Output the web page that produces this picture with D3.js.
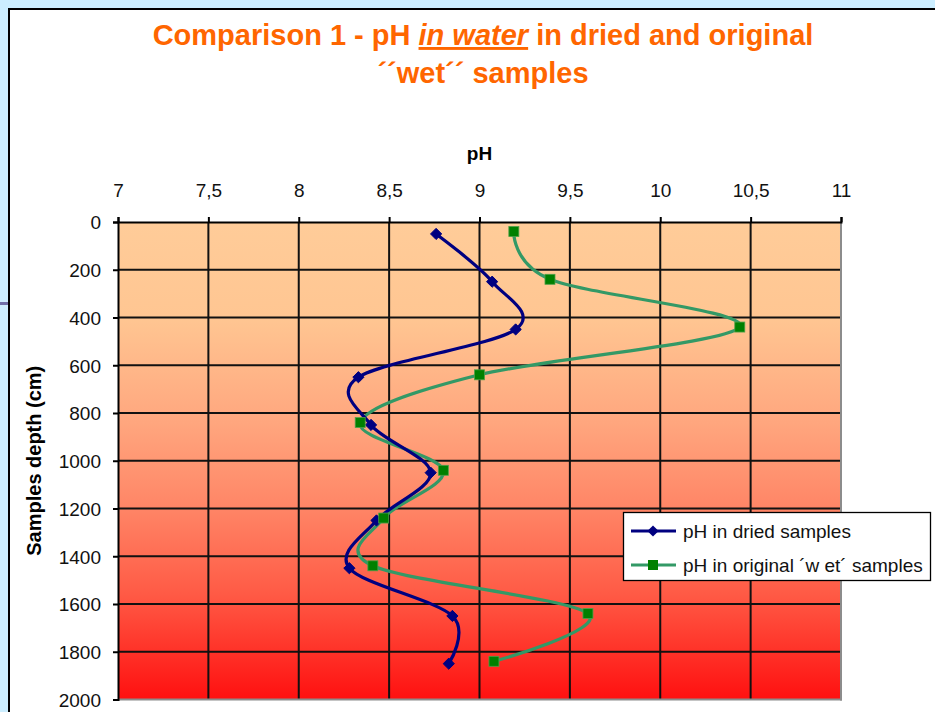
<!DOCTYPE html>
<html>
<head>
<meta charset="utf-8">
<script src="https://cdn.jsdelivr.net/npm/d3@7"></script>
<style>
  html, body { margin: 0; padding: 0; background: #cceeff; }
  svg { display: block; font-family: "Liberation Sans", Arial, sans-serif; }
</style>
</head>
<body>
<svg id="chart" width="935" height="712"></svg>
<script>
// pH readings by sample depth
const driedDepth = [50, 250, 450, 650, 850, 1050, 1250, 1450, 1650, 1850];
const driedPH    = [8.76, 9.07, 9.20, 8.33, 8.40, 8.73, 8.43, 8.28, 8.85, 8.83];
const wetDepth   = [40, 240, 440, 640, 840, 1040, 1240, 1440, 1640, 1840];
const wetPH      = [9.19, 9.39, 10.44, 9.00, 8.34, 8.80, 8.47, 8.41, 9.60, 9.08];
const phTicks    = [7, 7.5, 8, 8.5, 9, 9.5, 10, 10.5, 11];
const depthTicks = [0, 200, 400, 600, 800, 1000, 1200, 1400, 1600, 1800, 2000];
const seriesNames = ["pH in dried samples", "pH in original \u00b4w et\u00b4 samples"];

const FONT = "'Liberation Sans', Arial, sans-serif";
const svg = d3.select("#chart");

// white chart panel on the blue page
svg.append("rect").attr("x", 9).attr("y", 9).attr("width", 940).attr("height", 720)
  .attr("fill", "#ffffff").attr("stroke", "#000").attr("stroke-width", 2);
svg.append("rect").attr("x", 0).attr("y", 302).attr("width", 8).attr("height", 3)
  .attr("fill", "#6f6fa8");

const plotL = 118, plotR = 841, plotT = 222, plotB = 699.5;
const x = d3.scaleLinear().domain([7, 11]).range([plotL, plotR]);
const y = d3.scaleLinear().domain([0, 2000]).range([plotT, plotB]);

// plot background gradient
const defs = svg.append("defs");
const grad = defs.append("linearGradient").attr("id", "bg")
  .attr("x1", 0).attr("y1", 0).attr("x2", 0).attr("y2", 1);
[[0, "#ffcc99"], [0.2, "#ffc692"], [0.42, "#ffa67e"], [0.6, "#ff8566"],
 [0.78, "#ff5a45"], [1, "#ff1010"]].forEach(([o, c]) =>
  grad.append("stop").attr("offset", o).attr("stop-color", c));

svg.append("rect").attr("x", plotL).attr("y", plotT)
  .attr("width", plotR - plotL).attr("height", plotB - plotT).attr("fill", "url(#bg)");

// grid
const grid = svg.append("g").attr("stroke", "#111").attr("stroke-width", 2);
grid.selectAll("line.v").data(phTicks.slice(1, -1)).join("line").attr("class", "v")
  .attr("x1", d => x(d)).attr("x2", d => x(d)).attr("y1", plotT).attr("y2", plotB);
grid.selectAll("line.h").data(depthTicks.slice(1, -1)).join("line").attr("class", "h")
  .attr("x1", plotL).attr("x2", plotR).attr("y1", d => y(d)).attr("y2", d => y(d));

// plot border: grey on right and bottom
svg.append("line").attr("x1", plotR).attr("x2", plotR).attr("y1", plotT).attr("y2", plotB + 1)
  .attr("stroke", "#8c8c8c").attr("stroke-width", 2);
svg.append("line").attr("x1", plotL).attr("x2", plotR + 1).attr("y1", plotB).attr("y2", plotB)
  .attr("stroke", "#8c8c8c").attr("stroke-width", 2);

const fmt = d => String(d).replace(".", ",");

// top axis
const xAxis = svg.append("g").attr("transform", `translate(0,${plotT})`)
  .call(d3.axisTop(x).tickValues(phTicks).tickFormat(fmt).tickSize(5).tickPadding(20));
// left axis
const yAxis = svg.append("g").attr("transform", `translate(${plotL},0)`)
  .call(d3.axisLeft(y).tickValues(depthTicks).tickFormat(d => String(d)).tickSize(5).tickPadding(12));
[xAxis, yAxis].forEach(a => {
  a.select(".domain").attr("stroke", "#000").attr("stroke-width", 2);
  a.selectAll(".tick line").attr("stroke", "#000").attr("stroke-width", 2);
  a.selectAll(".tick text").attr("fill", "#111").attr("font-size", 19)
    .attr("font-family", FONT);
});
xAxis.selectAll(".tick text").attr("dy", 0).attr("y", -25);
yAxis.selectAll(".tick text").attr("dy", "0.36em");

// axis titles
svg.append("text").attr("x", x(9)).attr("y", 160).attr("text-anchor", "middle")
  .attr("font-weight", "bold").attr("font-size", 19).text("pH");
svg.append("text").attr("transform", `translate(41,${y(1000)}) rotate(-90)`)
  .attr("text-anchor", "middle").attr("font-weight", "bold").attr("font-size", 20)
  .text("Samples depth (cm)");

// title
const title = svg.append("text").attr("x", 483).attr("y", 45).attr("text-anchor", "middle")
  .attr("font-weight", "bold").attr("font-size", 29).attr("fill", "#ff6600");
title.append("tspan").text("Comparison 1 - pH ");
title.append("tspan").attr("font-style", "italic").attr("text-decoration", "underline").text("in water");
title.append("tspan").text("  in dried and original");
svg.append("text").attr("x", 483).attr("y", 83).attr("text-anchor", "middle")
  .attr("font-weight", "bold").attr("font-size", 29).attr("fill", "#ff6600")
  .text("\u00b4\u00b4wet\u00b4\u00b4 samples");

// series
const curve = d3.curveCardinal.tension(0);
const dried = driedDepth.map((d, i) => ({ depth: d, ph: driedPH[i] }));
const wet = wetDepth.map((d, i) => ({ depth: d, ph: wetPH[i] }));
const line = d3.line().x(d => x(d.ph)).y(d => y(d.depth)).curve(curve);

svg.append("path").datum(wet).attr("d", line).attr("fill", "none")
  .attr("stroke", "#339966").attr("stroke-width", 3.2);
svg.append("path").datum(dried).attr("d", line).attr("fill", "none")
  .attr("stroke", "#000080").attr("stroke-width", 3.2);

const diamond = d3.symbol().type(d3.symbolDiamond2).size(80);
svg.append("g").selectAll("path").data(dried).join("path")
  .attr("transform", d => `translate(${x(d.ph)},${y(d.depth)})`)
  .attr("d", diamond).attr("fill", "#000080").attr("stroke", "#000080").attr("stroke-width", 1);

svg.append("g").selectAll("rect").data(wet).join("rect")
  .attr("x", d => x(d.ph) - 5).attr("y", d => y(d.depth) - 5)
  .attr("width", 10).attr("height", 10)
  .attr("fill", "#008000").attr("stroke", "#4fa04a").attr("stroke-width", 0.8);

// legend
const lg = svg.append("g");
lg.append("rect").attr("x", 623.5).attr("y", 512.5).attr("width", 307).attr("height", 68)
  .attr("fill", "#fff").attr("stroke", "#000").attr("stroke-width", 1.3);
const rows = [
  { name: seriesNames[0], color: "#000080", y: 531 },
  { name: seriesNames[1], color: "#339966", y: 565 }
];
rows.forEach((r, i) => {
  lg.append("line").attr("x1", 631).attr("x2", 676).attr("y1", r.y).attr("y2", r.y)
    .attr("stroke", r.color).attr("stroke-width", 3.2);
  if (i === 0) {
    lg.append("path").attr("transform", `translate(653,${r.y})`).attr("d", diamond)
      .attr("fill", "#000080");
  } else {
    lg.append("rect").attr("x", 648).attr("y", r.y - 5).attr("width", 10).attr("height", 10)
      .attr("fill", "#008000");
  }
  lg.append("text").attr("x", 683).attr("y", r.y + 7).attr("font-size", 19)
    .attr("fill", "#111").text(r.name);
});
</script>
</body>
</html>
